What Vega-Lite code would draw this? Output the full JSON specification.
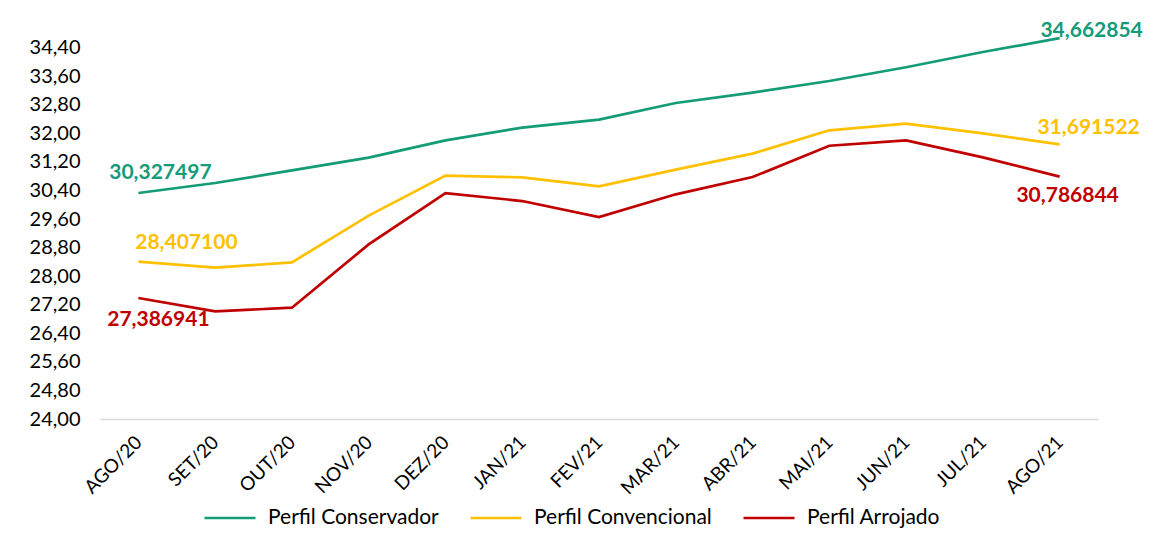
{
  "$schema": "https://vega.github.io/schema/vega-lite/v6.json",
  "width": 998,
  "height": 400,
  "autosize": {"type": "none"},
  "padding": {"left": 100, "top": 19, "right": 60, "bottom": 138},
  "background": "white",
  "config": {
    "locale": {"number": {"decimal": ",", "thousands": ".", "grouping": [3], "currency": ["R$", ""]}},
    "font": "Lato",
    "view": {"stroke": null}
  },
  "data": {
    "values": [
      {"mes": "AGO/20", "perfil": "Perfil Conservador", "valor": 30.327497},
      {"mes": "SET/20", "perfil": "Perfil Conservador", "valor": 30.607},
      {"mes": "OUT/20", "perfil": "Perfil Conservador", "valor": 30.963},
      {"mes": "NOV/20", "perfil": "Perfil Conservador", "valor": 31.319},
      {"mes": "DEZ/20", "perfil": "Perfil Conservador", "valor": 31.803},
      {"mes": "JAN/21", "perfil": "Perfil Conservador", "valor": 32.159},
      {"mes": "FEV/21", "perfil": "Perfil Conservador", "valor": 32.383},
      {"mes": "MAR/21", "perfil": "Perfil Conservador", "valor": 32.848},
      {"mes": "ABR/21", "perfil": "Perfil Conservador", "valor": 33.139},
      {"mes": "MAI/21", "perfil": "Perfil Conservador", "valor": 33.464},
      {"mes": "JUN/21", "perfil": "Perfil Conservador", "valor": 33.85},
      {"mes": "JUL/21", "perfil": "Perfil Conservador", "valor": 34.277},
      {"mes": "AGO/21", "perfil": "Perfil Conservador", "valor": 34.662854},
      {"mes": "AGO/20", "perfil": "Perfil Convencional", "valor": 28.4071},
      {"mes": "SET/20", "perfil": "Perfil Convencional", "valor": 28.237},
      {"mes": "OUT/20", "perfil": "Perfil Convencional", "valor": 28.386},
      {"mes": "NOV/20", "perfil": "Perfil Convencional", "valor": 29.694},
      {"mes": "DEZ/20", "perfil": "Perfil Convencional", "valor": 30.814},
      {"mes": "JAN/21", "perfil": "Perfil Convencional", "valor": 30.767},
      {"mes": "FEV/21", "perfil": "Perfil Convencional", "valor": 30.515},
      {"mes": "MAR/21", "perfil": "Perfil Convencional", "valor": 30.982},
      {"mes": "ABR/21", "perfil": "Perfil Convencional", "valor": 31.431},
      {"mes": "MAI/21", "perfil": "Perfil Convencional", "valor": 32.083},
      {"mes": "JUN/21", "perfil": "Perfil Convencional", "valor": 32.271},
      {"mes": "JUL/21", "perfil": "Perfil Convencional", "valor": 32.0},
      {"mes": "AGO/21", "perfil": "Perfil Convencional", "valor": 31.691522},
      {"mes": "AGO/20", "perfil": "Perfil Arrojado", "valor": 27.386941},
      {"mes": "SET/20", "perfil": "Perfil Arrojado", "valor": 27.013},
      {"mes": "OUT/20", "perfil": "Perfil Arrojado", "valor": 27.117},
      {"mes": "NOV/20", "perfil": "Perfil Arrojado", "valor": 28.89},
      {"mes": "DEZ/20", "perfil": "Perfil Arrojado", "valor": 30.327},
      {"mes": "JAN/21", "perfil": "Perfil Arrojado", "valor": 30.103},
      {"mes": "FEV/21", "perfil": "Perfil Arrojado", "valor": 29.655},
      {"mes": "MAR/21", "perfil": "Perfil Arrojado", "valor": 30.291},
      {"mes": "ABR/21", "perfil": "Perfil Arrojado", "valor": 30.775},
      {"mes": "MAI/21", "perfil": "Perfil Arrojado", "valor": 31.652},
      {"mes": "JUN/21", "perfil": "Perfil Arrojado", "valor": 31.803},
      {"mes": "JUL/21", "perfil": "Perfil Arrojado", "valor": 31.327},
      {"mes": "AGO/21", "perfil": "Perfil Arrojado", "valor": 30.786844}
    ]
  },
  "encoding": {
    "x": {
      "field": "mes", "type": "ordinal", "sort": null,
      "scale": {"type": "point", "padding": 0.5},
      "axis": {
        "title": null, "labelAngle": -45, "labelFontSize": 19, "labelColor": "#000000",
        "labelAlign": "right", "labelBaseline": "middle", "labelPadding": 20,
        "ticks": false, "domainColor": "#d9d9d9", "domainWidth": 1.5, "grid": false
      }
    },
    "y": {
      "field": "valor", "type": "quantitative",
      "scale": {"domain": [24, 35.2], "nice": false, "zero": false},
      "axis": {
        "title": null, "format": ".2f", "values": [24, 24.8, 25.6, 26.4, 27.2, 28, 28.8, 29.6, 30.4, 31.2, 32, 32.8, 33.6, 34.4],
        "labelFontSize": 20, "labelColor": "#000000", "labelPadding": 20,
        "ticks": false, "domain": false, "grid": false
      }
    },
    "color": {
      "field": "perfil", "type": "nominal",
      "scale": {"domain": ["Perfil Conservador", "Perfil Convencional", "Perfil Arrojado"], "range": ["#149B77", "#FFC000", "#C00000"]},
      "legend": null
    }
  },
  "layer": [
    {
      "mark": {"type": "line", "strokeWidth": 2.7},
      "encoding": {
        "color": {
          "field": "perfil", "type": "nominal",
          "scale": {"domain": ["Perfil Conservador", "Perfil Convencional", "Perfil Arrojado"], "range": ["#149B77", "#FFC000", "#C00000"]},
          "legend": {
            "title": null, "orient": "none", "direction": "horizontal",
            "legendX": 103, "legendY": 472,
            "symbolType": "stroke", "symbolSize": 2600, "symbolStrokeWidth": 2.7,
            "labelFontSize": 21, "labelColor": "#000000", "labelOffset": 11, "columnPadding": 26,
            "labelLimit": 400
          }
        }
      }
    },
    {
      "transform": [{"filter": "datum.perfil == 'Perfil Conservador' && datum.mes == 'AGO/20'"}],
      "mark": {"type": "text", "fontWeight": "bold", "fontSize": 21, "dx": 22, "dy": -20, "align": "center", "baseline": "middle"},
      "encoding": {"text": {"field": "valor", "type": "quantitative", "format": ".6f"}}
    },
    {
      "transform": [{"filter": "datum.perfil == 'Perfil Convencional' && datum.mes == 'AGO/20'"}],
      "mark": {"type": "text", "fontWeight": "bold", "fontSize": 21, "dx": 48, "dy": -19, "align": "center", "baseline": "middle"},
      "encoding": {"text": {"field": "valor", "type": "quantitative", "format": ".6f"}}
    },
    {
      "transform": [{"filter": "datum.perfil == 'Perfil Arrojado' && datum.mes == 'AGO/20'"}],
      "mark": {"type": "text", "fontWeight": "bold", "fontSize": 21, "dx": 20, "dy": 22, "align": "center", "baseline": "middle"},
      "encoding": {"text": {"field": "valor", "type": "quantitative", "format": ".6f"}}
    },
    {
      "transform": [{"filter": "datum.perfil == 'Perfil Conservador' && datum.mes == 'AGO/21'"}],
      "mark": {"type": "text", "fontWeight": "bold", "fontSize": 21, "dx": 32, "dy": -7, "align": "center", "baseline": "middle"},
      "encoding": {"text": {"field": "valor", "type": "quantitative", "format": ".6f"}}
    },
    {
      "transform": [{"filter": "datum.perfil == 'Perfil Convencional' && datum.mes == 'AGO/21'"}],
      "mark": {"type": "text", "fontWeight": "bold", "fontSize": 21, "dx": 29, "dy": -16, "align": "center", "baseline": "middle"},
      "encoding": {"text": {"field": "valor", "type": "quantitative", "format": ".6f"}}
    },
    {
      "transform": [{"filter": "datum.perfil == 'Perfil Arrojado' && datum.mes == 'AGO/21'"}],
      "mark": {"type": "text", "fontWeight": "bold", "fontSize": 21, "dx": 8, "dy": 19, "align": "center", "baseline": "middle"},
      "encoding": {"text": {"field": "valor", "type": "quantitative", "format": ".6f"}}
    }
  ]
}
